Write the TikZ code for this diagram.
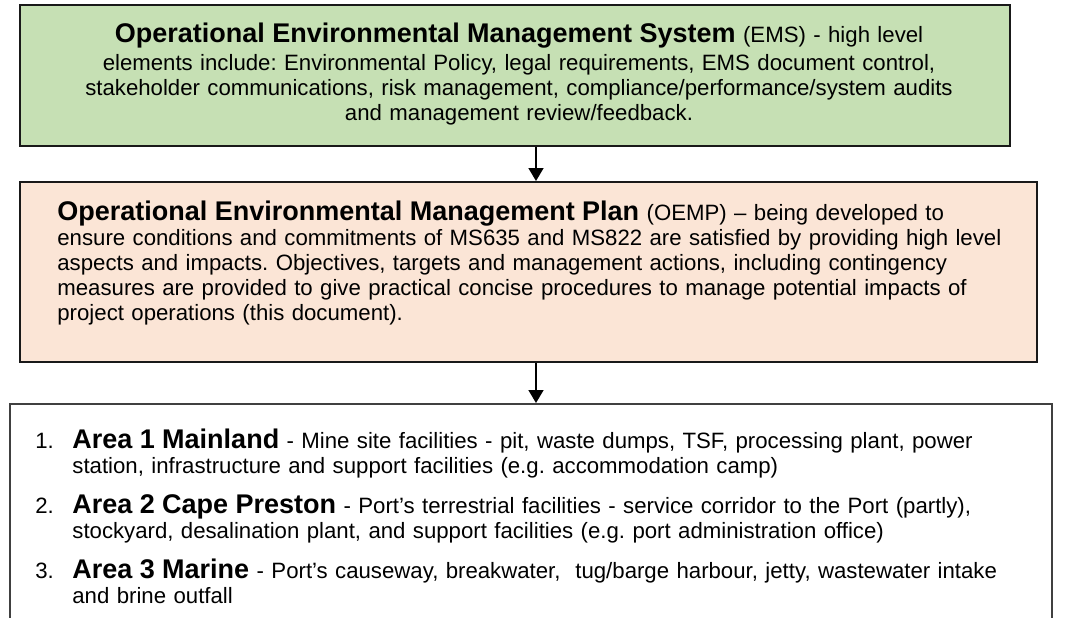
\documentclass[tikz,border=0pt]{standalone}
\usepackage{fontspec}
\setmainfont{Liberation Sans}
\frenchspacing
\usetikzlibrary{arrows.meta}
\definecolor{emsgreen}{RGB}{198,224,180}
\definecolor{oempbuff}{RGB}{251,229,214}
\definecolor{edgegrey}{RGB}{64,64,64}
\newcommand{\bodysize}{\fontsize{11.1}{12.5}\selectfont}
\newcommand{\headsize}{\fontsize{13.5}{12.5}\selectfont\bfseries}
\tikzset{
	planbox/.style={draw=black!90, line width=1pt, inner sep=0pt},
	linetext/.style={inner sep=0pt, text width=#1, font=\bodysize},
	flow/.style={line width=0.8pt, -{Triangle[length=6.5pt,width=7.5pt]}}
}

\begin{document}
\begin{tikzpicture}[x=0.5pt, y=-0.5pt]
	\useasboundingbox (0,0) rectangle (1070,617);

	\node[planbox, fill=emsgreen, minimum width=495pt, minimum height=70.5pt] (ems) at (515,75.5) {};
	\node[planbox, fill=oempbuff, minimum width=508.5pt, minimum height=90pt] (oemp) at (528.5,272) {};
	\node[planbox, draw=edgegrey, minimum width=521pt, minimum height=123pt] (areas) at (531,527) {};
	\coordinate (drop) at (536,0);

	\node[linetext=460pt, align=center, anchor=base] (emstext) at (519,42)
		{{\headsize Operational Environmental Management System} (EMS) - high level\\[1.5pt]
		elements include: Environmental Policy, legal requirements, EMS document control,\\
		stakeholder communications, risk management, compliance/performance/system audits\\
		and management review/feedback.};

	\node[linetext=480pt, align=left, anchor=base west] (oemptext) at (57,220)
		{{\headsize Operational Environmental Management Plan} (OEMP) -- being developed to\\
		ensure conditions and commitments of MS635 and MS822 are satisfied by providing high level\\
		aspects and impacts. Objectives, targets and management actions, including contingency\\
		measures are provided to give practical concise procedures to manage potential impacts of\\
		project operations (this document).};

	\node[linetext=20pt, anchor=base west] (num1) at (35,448) {1.};
	\node[linetext=480pt, align=left, anchor=base west] (area1) at (72,448)
		{{\headsize Area 1 Mainland} - Mine site facilities - pit, waste dumps, TSF, processing plant, power\\
		station, infrastructure and support facilities (e.g. accommodation camp)};

	\node[linetext=20pt, anchor=base west] (num2) at (35,513) {2.};
	\node[linetext=480pt, align=left, anchor=base west] (area2) at (72,513)
		{{\headsize Area 2 Cape Preston} - Port’s terrestrial facilities - service corridor to the Port (partly),\\
		stockyard, desalination plant, and support facilities (e.g. port administration office)};

	\node[linetext=20pt, anchor=base west] (num3) at (35,578) {3.};
	\node[linetext=480pt, align=left, anchor=base west] (area3) at (72,578)
		{{\headsize Area 3 Marine} - Port’s causeway, breakwater, \ tug/barge harbour, jetty, wastewater intake\\
		and brine outfall};

	\draw[flow] (ems.south -| drop) -- (oemp.north -| drop);
	\draw[flow] (oemp.south -| drop) -- (areas.north -| drop);

\end{tikzpicture}
\end{document}
